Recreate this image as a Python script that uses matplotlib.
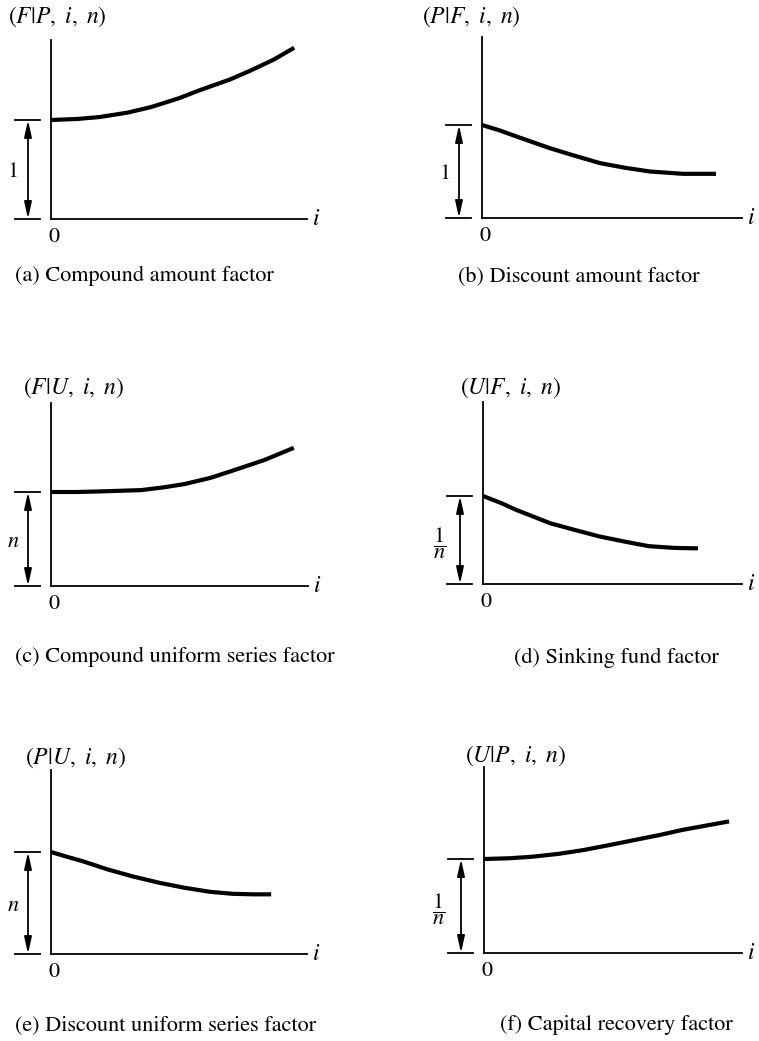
# Interest factor curves (six small panels)
import matplotlib
matplotlib.use('Agg')
import matplotlib.pyplot as plt

plt.rcParams['mathtext.fontset'] = 'stix'
plt.rcParams['font.family'] = ['STIXGeneral', 'DejaVu Serif']

W, H = 759, 1041

# data: interest rate i (0..1 = length of i axis) and factor value (1 = bracket height)
i_a = [0, 0.1, 0.19, 0.3, 0.39, 0.5, 0.58, 0.7, 0.78, 0.87, 0.95]
v_a = [1.0, 1.01, 1.03, 1.075, 1.13, 1.22, 1.30, 1.41, 1.50, 1.61, 1.73]

i_b = [0, 0.07, 0.134, 0.262, 0.35, 0.454, 0.55, 0.646, 0.773, 0.90]
v_b = [1.0, 0.94, 0.875, 0.75, 0.675, 0.59, 0.54, 0.50, 0.475, 0.475]

i_c = [0, 0.1, 0.19, 0.35, 0.44, 0.52, 0.62, 0.71, 0.83, 0.945]
v_c = [1.0, 1.0, 1.006, 1.02, 1.05, 1.085, 1.15, 1.23, 1.34, 1.47]

i_d = [0, 0.07, 0.13, 0.26, 0.36, 0.45, 0.55, 0.64, 0.74, 0.83]
v_d = [1.0, 0.92, 0.84, 0.69, 0.61, 0.54, 0.48, 0.43, 0.41, 0.405]

i_e = [0, 0.06, 0.127, 0.22, 0.32, 0.42, 0.52, 0.62, 0.71, 0.79, 0.86]
v_e = [1.0, 0.955, 0.907, 0.83, 0.76, 0.70, 0.65, 0.61, 0.59, 0.585, 0.585]

i_f = [0, 0.1, 0.19, 0.29, 0.385, 0.48, 0.58, 0.68, 0.77, 0.86, 0.95]
v_f = [1.0, 1.008, 1.025, 1.055, 1.095, 1.145, 1.2, 1.255, 1.31, 1.355, 1.40]

titles = [r'$(F|P,\ i,\ n)$', r'$(P|F,\ i,\ n)$', r'$(F|U,\ i,\ n)$',
          r'$(U|F,\ i,\ n)$', r'$(P|U,\ i,\ n)$', r'$(U|P,\ i,\ n)$']
captions = ['(a) Compound amount factor', '(b) Discount amount factor',
            '(c) Compound uniform series factor', '(d) Sinking fund factor',
            '(e) Discount uniform series factor', '(f) Capital recovery factor']
bracket_labels = ['1', '1', r'$n$', r'$\dfrac{1}{n}$', r'$n$', r'$\dfrac{1}{n}$']

curves = [(i_a, v_a), (i_b, v_b), (i_c, v_c), (i_d, v_d), (i_e, v_e), (i_f, v_f)]

# layout in pixels: y-axis x, i-axis end x, baseline y, axis top y, unit height
layout = [(51, 307, 219, 40, 99), (482, 742, 218, 37, 93),
          (51, 308, 586, 403, 94), (483, 742, 584, 402, 88),
          (51, 307, 954, 770, 102), (484, 742, 953, 767, 94)]
title_pos = [(8, 17), (422, 17), (23, 388), (460, 388), (25, 758), (465, 756)]
# caption anchor and alignment
caption_pos = [(15, 276, 'left'), (579, 277, 'center'), (15, 657, 'left'),
               (616, 658, 'center'), (15, 1025, 'left'), (616, 1025, 'center')]
label_dx = [-38, -37, -38, -43, -38, -45]

fig = plt.figure(figsize=(W / 100, H / 100), dpi=100)

for k in range(6):
    x0, x1, base, top, unit = layout[k]
    ax = fig.add_axes([x0 / W, (H - base) / H, (x1 - x0) / W, (base - top) / H])
    ax.set_xlim(0, 1)
    ax.set_ylim(0, (base - top) / unit)
    for s in ['top', 'right']:
        ax.spines[s].set_visible(False)
    ax.spines['left'].set_linewidth(1.3)
    ax.spines['bottom'].set_linewidth(1.3)
    ax.set_xticks([])
    ax.set_yticks([])

    xs, ys = curves[k]
    ax.plot(xs, ys, color='black', lw=3, solid_capstyle='butt', solid_joinstyle='round')

    px = 1.0 / (x1 - x0)  # one pixel in data x
    # bracket showing unit height
    for yy in [0, 1]:
        ax.plot([-36 * px, -11 * px], [yy, yy], color='black', lw=1.3, clip_on=False)
    ax.annotate('', xy=(-23 * px, 1), xytext=(-23 * px, 0),
                arrowprops=dict(arrowstyle='<|-|>,head_length=1.0,head_width=0.22',
                                color='black', lw=1.3, shrinkA=0, shrinkB=0),
                annotation_clip=False)
    ax.text(label_dx[k] * px, 0.47, bracket_labels[k], fontsize=16,
            ha='center', va='center', clip_on=False)
    ax.annotate('0', xy=(0, 0), xytext=(3, -18), textcoords='offset pixels',
                fontsize=16, ha='center', va='center', annotation_clip=False)
    ax.annotate(r'$i$', xy=(1, 0), xytext=(5, 0), textcoords='offset pixels',
                fontsize=17, ha='left', va='center', annotation_clip=False)

    tx, ty = title_pos[k]
    fig.text(tx / W, 1 - ty / H, titles[k], fontsize=17, ha='left', va='center')
    cx, cy, cha = caption_pos[k]
    fig.text(cx / W, 1 - cy / H, captions[k], fontsize=16, ha=cha, va='center')

fig.savefig('out.png', dpi=100)
